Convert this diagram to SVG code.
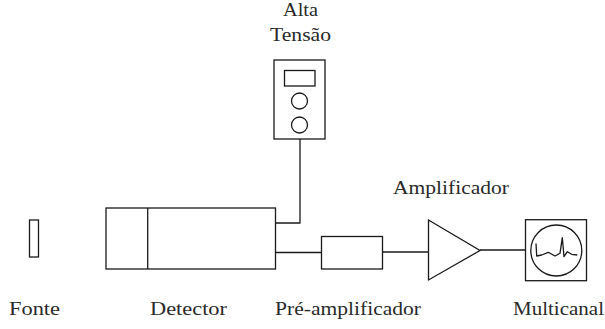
<svg xmlns="http://www.w3.org/2000/svg" width="605" height="329" viewBox="0 0 605 329">
<style>
.s{fill:#fff;stroke:#1a1a1a;stroke-width:1.3}
.c{fill:none;stroke:#1a1a1a;stroke-width:1.3;stroke-linejoin:round}
text{font-family:"Liberation Serif","Times New Roman",serif;font-size:19px;fill:#2a2a2a}
</style>
<rect width="605" height="329" fill="#fff"/>
<g id="connectors">
<path class="c" d="M300 139V223H275.500M275.500 252.500H321.500M382.500 252H428.500M480 250H525.500"/>
</g>
<g id="fonte">
<rect class="s" x="29.500" y="220" width="9" height="37"/>
<text x="9" y="315" textLength="51" lengthAdjust="spacingAndGlyphs">Fonte</text>
</g>
<g id="detector">
<rect class="s" x="106" y="208" width="169.500" height="61"/>
<path class="c" d="M147.700 208V269"/>
<text x="150" y="315" textLength="77" lengthAdjust="spacingAndGlyphs">Detector</text>
</g>
<g id="alta-tensao">
<rect class="s" x="274" y="60" width="51" height="79"/>
<rect class="s" x="284.500" y="70.500" width="30.500" height="15.500"/>
<circle class="s" cx="299.500" cy="101" r="8"/>
<circle class="s" cx="299.500" cy="125" r="8"/>
<text x="283" y="16" textLength="35" lengthAdjust="spacingAndGlyphs">Alta</text>
<text x="270" y="41" textLength="61" lengthAdjust="spacingAndGlyphs">Tensão</text>
</g>
<g id="pre-amplificador">
<rect class="s" x="321.500" y="236.500" width="61" height="32.500"/>
<text x="275" y="315" textLength="146" lengthAdjust="spacingAndGlyphs">Pré-amplificador</text>
</g>
<g id="amplificador">
<polygon class="s" points="428.500,220 480,250.500 428.500,280"/>
<text x="393" y="194" textLength="116" lengthAdjust="spacingAndGlyphs">Amplificador</text>
</g>
<g id="multicanal">
<rect class="s" x="525.500" y="219.700" width="61" height="61"/>
<circle class="s" cx="556.300" cy="250.500" r="25.500"/>
<path class="c" d="M536 243.500L536.700 256L541.700 255L548.300 252.300L555 256L560 253.300L562.300 237.700L564 256.700L567.300 251.700L571.700 254.300L577.300 255"/>
<text x="513" y="315" textLength="91" lengthAdjust="spacingAndGlyphs">Multicanal</text>
</g>
</svg>
